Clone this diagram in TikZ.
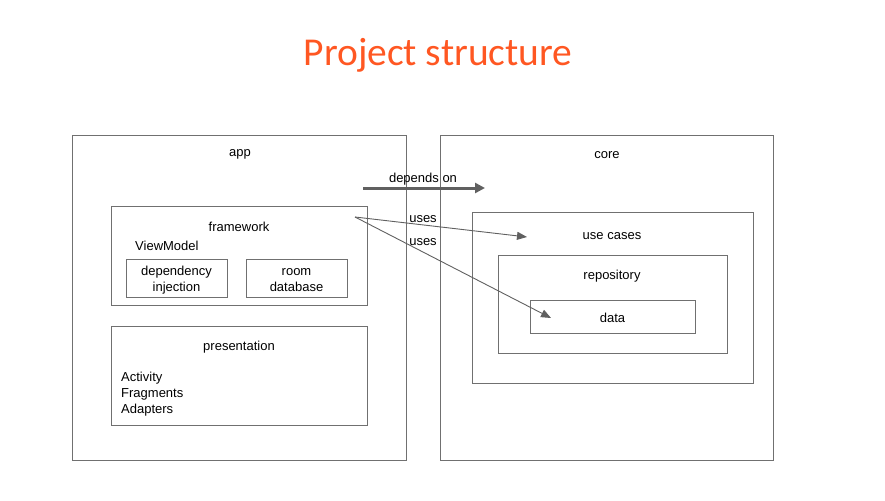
\documentclass[tikz,border=0pt]{standalone}
\usepackage{fontspec}
\setmainfont{Liberation Sans}
\newfontfamily\titlefont{Carlito}
\usetikzlibrary{arrows.meta}
\definecolor{titleorange}{HTML}{FF5722}
\definecolor{boxgray}{HTML}{707070}
\definecolor{arrowgray}{HTML}{606060}

\begin{document}
\begin{tikzpicture}[x=1pt,y=-1pt,
  box/.style={draw=boxgray,line width=1pt,inner sep=0pt},
  txt/.style={font=\fontsize{13}{16}\selectfont,inner sep=0pt,align=center,yshift=-1.8pt},
  uses/.style={draw=arrowgray,line width=0.9pt,-{Triangle[length=10pt,width=8pt]}}]
  \useasboundingbox (0,0) rectangle (885,500);

  \node[font=\titlefont\fontsize{39.5}{44}\selectfont,text=titleorange] (title) at (438,55) {Project structure};

  % boxes: name / centre x / centre y / width / height
  \foreach \name/\x/\y/\w/\h in {app/239/297.5/334/325, core/606.5/297.5/333/325,
      framework/239/255.5/256/99, di/176.5/278/101/38, room/296.5/278/101/38,
      presentation/239/375.5/256/99, usecases/612.5/297.5/281/171,
      repository/612.5/304/229/98, data/612.5/316.5/165/33} {
    \node[box,minimum width=\w,minimum height=\h] (\name) at (\x,\y) {};
  }

  \node[txt] (appLbl) at (240,153) {app};
  \node[txt] (coreLbl) at (607,153) {core};
  \node[txt] (fwLbl) at (239,225) {framework};
  \node[txt,anchor=west] (vmLbl) at (135,244) {ViewModel};
  \node[txt] (diLbl) at (di) {dependency\\injection};
  \node[txt] (roomLbl) at (room) {room\\database};
  \node[txt] (presLbl) at (239,345) {presentation};
  \node[txt,anchor=north west,align=left] (presList) at (121,370) {Activity\\Fragments\\Adapters};
  \node[txt] (ucLbl) at (612,234) {use cases};
  \node[txt] (repoLbl) at (612,274) {repository};
  \node[txt] (dataLbl) at (data) {data};

  % depends on
  \coordinate (depFrom) at (363,188);
  \coordinate (depTo) at (485,188);
  \draw[draw=arrowgray,line width=3pt,-{Triangle[length=10pt,width=10pt]}] (depFrom) -- (depTo);
  \node[txt] (depLbl) at (423,177) {depends on};

  % uses
  \coordinate (usesFrom) at (355,217);
  \coordinate (ucTo) at (527,237);
  \coordinate (dataTo) at (551,318);
  \draw[uses] (usesFrom) -- (ucTo);
  \draw[uses] (usesFrom) -- (dataTo);
  \node[txt] (usesA) at (423,217) {uses};
  \node[txt] (usesB) at (423,240) {uses};

\end{tikzpicture}
\end{document}
